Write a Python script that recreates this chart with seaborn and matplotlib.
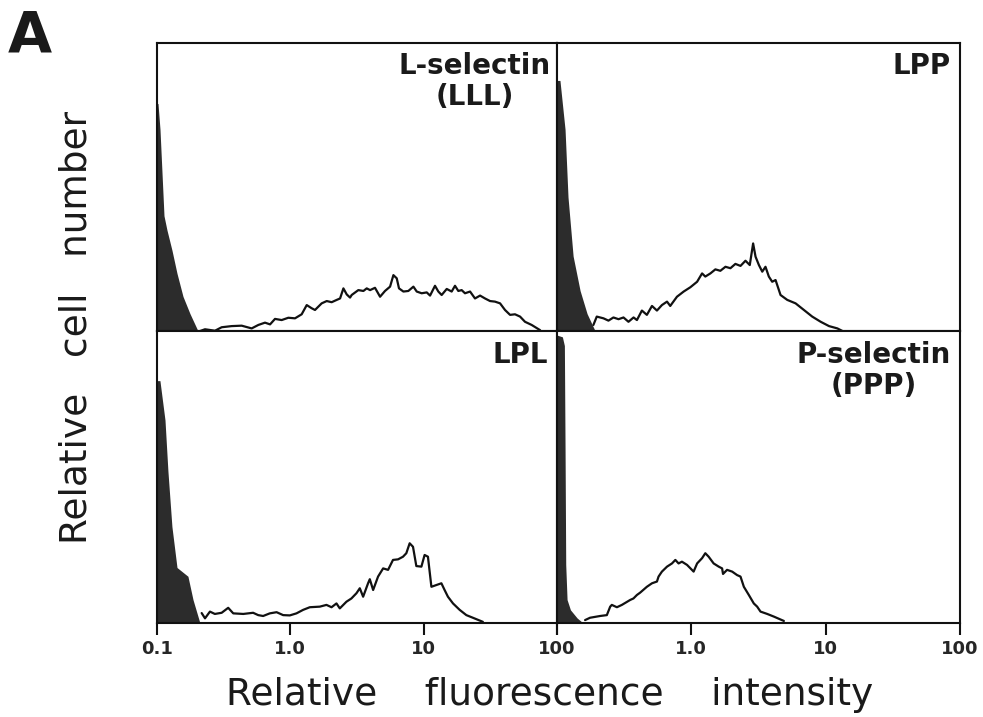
import numpy as np
import pandas as pd
import matplotlib
matplotlib.use("Agg")
import matplotlib.pyplot as plt
import seaborn as sns
from matplotlib.ticker import NullLocator

# 荧光强度用 log10 记录（十进位），细胞数用面板高度的百分比
# 左上 L-selectin (LLL)
lll_ctrl_log = [-1.0, -0.9925, -0.9775, -0.9625, -0.9475, -0.925, -0.8875, -0.85, -0.805, -0.7525, -0.6925]
lll_ctrl_h = [79, 79, 70, 55, 40, 35, 28, 20, 12, 6, 0]
lll_log = [-0.677, -0.64, -0.565, -0.515, -0.44, -0.365, -0.29, -0.24, -0.19, -0.152,
           -0.115, -0.065, -0.015, 0.035, 0.085, 0.123, 0.16, 0.185, 0.235, 0.273,
           0.31, 0.348, 0.373, 0.398, 0.423, 0.448, 0.46, 0.51, 0.548, 0.573,
           0.598, 0.635, 0.673, 0.71, 0.748, 0.773, 0.798, 0.815, 0.848, 0.885,
           0.923, 0.948, 0.985, 1.023, 1.048, 1.085, 1.11, 1.135, 1.173, 1.21,
           1.235, 1.26, 1.285, 1.31, 1.348, 1.385, 1.423, 1.46, 1.498, 1.535,
           1.573, 1.61, 1.648, 1.685, 1.723, 1.76, 1.81, 1.873]
lll_h = [0, 0.6, 0.1, 1.3, 1.7, 1.85, 0.9, 2.1, 2.9, 2.3,
         4.2, 3.8, 4.6, 4.4, 5.8, 9.0, 7.9, 7.3, 9.6, 10.4,
         10.0, 10.8, 11.3, 14.8, 12.7, 11.6, 12.5, 14.2, 13.9, 14.8,
         14.2, 15.0, 11.9, 13.9, 15.4, 19.4, 18.3, 14.8, 13.7, 13.9,
         15.4, 13.7, 13.1, 13.4, 12.3, 15.7, 13.7, 12.5, 14.6, 13.7,
         15.7, 13.9, 14.2, 13.1, 13.7, 11.3, 12.3, 11.3, 10.4, 10.2,
         9.6, 7.3, 5.6, 5.8, 5.0, 3.2, 2.1, 0.3]

# 右上 LPP
lpp_ctrl_log = [-1.0, -0.978, -0.94, -0.918, -0.88, -0.828, -0.776, -0.716]
lpp_ctrl_h = [87, 87, 70, 46.5, 26, 14, 6, 0]
lpp_log = [-0.729, -0.704, -0.654, -0.617, -0.58, -0.542, -0.505, -0.468, -0.43, -0.405,
           -0.368, -0.331, -0.293, -0.256, -0.219, -0.181, -0.157, -0.107, -0.057, -0.007,
           0.043, 0.08, 0.104, 0.142, 0.179, 0.216, 0.254, 0.291, 0.328, 0.366,
           0.403, 0.435, 0.46, 0.478, 0.503, 0.528, 0.552, 0.577, 0.602, 0.627,
           0.664, 0.714, 0.776, 0.838, 0.9, 0.963, 1.025, 1.087, 1.125]
lpp_h = [2.1, 5.0, 4.4, 3.6, 4.7, 4.1, 4.7, 3.2, 4.7, 3.8,
         7.1, 5.6, 8.7, 7.1, 9.0, 10.2, 8.7, 11.9, 13.7, 15.2,
         17.1, 20.0, 18.9, 20.0, 21.4, 20.9, 22.3, 21.8, 23.3, 22.6,
         24.4, 22.9, 30.4, 25.8, 22.9, 20.6, 22.3, 18.9, 17.1, 17.7,
         12.5, 10.8, 9.6, 7.3, 5.0, 3.2, 1.7, 0.9, 0]

# 左下 LPL
lpl_ctrl_log = [-1.0, -0.978, -0.94, -0.918, -0.888, -0.85, -0.768, -0.73, -0.678]
lpl_ctrl_h = [83, 83, 69.5, 52, 33, 19, 16, 8, 0]
lpl_log = [-0.665, -0.64, -0.603, -0.566, -0.515, -0.466, -0.428, -0.353, -0.279, -0.241,
           -0.204, -0.154, -0.103, -0.054, -0.004, 0.046, 0.096, 0.146, 0.221, 0.271,
           0.309, 0.346, 0.371, 0.421, 0.458, 0.496, 0.521, 0.546, 0.583, 0.596,
           0.621, 0.658, 0.696, 0.733, 0.77, 0.808, 0.845, 0.87, 0.895, 0.92,
           0.945, 0.983, 1.007, 1.032, 1.058, 1.095, 1.133, 1.157, 1.182, 1.22,
           1.27, 1.32, 1.369, 1.444]
lpl_h = [3.4, 1.6, 3.9, 3.1, 3.5, 5.2, 3.3, 3.1, 3.5, 2.7,
         2.4, 3.3, 3.7, 2.7, 2.6, 3.3, 4.5, 5.4, 5.6, 6.2,
         5.4, 6.7, 5.0, 7.3, 8.4, 10.2, 11.9, 9.0, 13.6, 15.0,
         11.3, 15.9, 18.7, 18.2, 21.6, 21.8, 22.7, 23.9, 27.3, 26.1,
         19.5, 19.3, 23.3, 22.7, 12.4, 13.0, 13.6, 11.3, 9.0, 6.7,
         4.5, 2.7, 1.8, 0.4]

# 右下 P-selectin (PPP)
ppp_ctrl_log = [-1.0, -0.96, -0.945, -0.94, -0.935, -0.925, -0.90, -0.85, -0.806]
ppp_ctrl_h = [98.6, 98, 95, 60, 20, 8, 4.5, 1.7, 0]
ppp_log = [-0.791, -0.754, -0.679, -0.629, -0.604, -0.592, -0.554, -0.517, -0.455, -0.431,
           -0.405, -0.381, -0.331, -0.293, -0.256, -0.244, -0.219, -0.181, -0.144, -0.119,
           -0.095, -0.07, -0.032, 0.017, 0.043, 0.08, 0.104, 0.129, 0.166, 0.204,
           0.229, 0.236, 0.266, 0.304, 0.341, 0.366, 0.391, 0.428, 0.465, 0.49,
           0.515, 0.565, 0.614, 0.689]
ppp_h = [1.0, 1.8, 2.4, 2.7, 5.6, 6.2, 5.4, 6.2, 7.9, 8.4,
         9.6, 10.4, 12.4, 13.6, 14.2, 15.9, 17.6, 19.3, 20.4, 21.6,
         20.4, 21.0, 19.9, 17.6, 20.4, 22.2, 23.9, 22.7, 20.4, 19.3,
         18.7, 16.8, 18.2, 17.6, 16.4, 15.9, 12.4, 9.6, 6.7, 5.6,
         3.9, 3.1, 2.2, 0.7]

panel_names = ["L-selectin\n(LLL)", "LPP", "LPL", "P-selectin\n(PPP)"]
tick_values = [0.1, 1, 10, 100]
tick_labels = ["0.1", "1.0", "10", "100"]

sns.set_style("white")
plt.rcParams['font.family'] = ['DejaVu Sans']

fig = plt.figure(figsize=(9.83, 7.17), dpi=100)
W, H = 983, 717
ax_tl = fig.add_axes([157 / W, 1 - 331 / H, 400 / W, 288 / H])
ax_tr = fig.add_axes([557 / W, 1 - 331 / H, 403 / W, 288 / H])
ax_bl = fig.add_axes([157 / W, 1 - 623 / H, 400 / W, 292 / H])
ax_br = fig.add_axes([557 / W, 1 - 623 / H, 403 / W, 292 / H])

panels = [
    (ax_tl, lll_ctrl_log, lll_ctrl_h, lll_log, lll_h, panel_names[0], (0.985, 0.97)),
    (ax_tr, lpp_ctrl_log, lpp_ctrl_h, lpp_log, lpp_h, panel_names[1], (0.977, 0.97)),
    (ax_bl, lpl_ctrl_log, lpl_ctrl_h, lpl_log, lpl_h, panel_names[2], (0.977, 0.965)),
    (ax_br, ppp_ctrl_log, ppp_ctrl_h, ppp_log, ppp_h, panel_names[3], (0.977, 0.967)),
]

for i, (ax, c_log, c_h, s_log, s_h, name, pos) in enumerate(panels):
    ax.set_xscale('log')
    # 对照（实心）
    ax.fill_between(10 ** np.array(c_log), c_h, 0, color='#2c2c2c', lw=0, zorder=2)
    # 样本（轮廓线）
    df = pd.DataFrame({'intensity': 10 ** np.array(s_log), 'count': s_h})
    sns.lineplot(data=df, x='intensity', y='count', ax=ax, color='#111111', lw=1.6, zorder=3)
    ax.set_xlim(0.1, 100)
    ax.set_ylim(0, 100)
    ax.set_xlabel('')
    ax.set_ylabel('')
    ax.set_yticks([])
    ax.xaxis.set_minor_locator(NullLocator())
    for sp in ax.spines.values():
        sp.set_linewidth(1.5)
        sp.set_color('#111111')
    ax.text(pos[0], pos[1], name, transform=ax.transAxes, ha='right', va='top',
            multialignment='center', fontsize=20, fontweight='bold', color='#1a1a1a',
            linespacing=1.15)
    if i < 2:
        ax.tick_params(axis='x', bottom=False, labelbottom=False)
    else:
        ax.set_xticks(tick_values)
        labels = tick_labels if i == 2 else [""] + tick_labels[1:]
        ax.set_xticklabels(labels, fontweight='bold')
        ax.tick_params(axis='x', direction='out', length=8.5, width=1.5, pad=4,
                       labelsize=13, bottom=True, color='#111111')

fig.text(550 / W, 1 - 695 / H, "Relative    fluorescence    intensity",
         ha='center', va='center', fontsize=27, color='#1a1a1a')
fig.text(77 / W, 1 - 327 / H, "Relative   cell   number", rotation=90,
         ha='center', va='center', fontsize=27, color='#1a1a1a')
fig.text(8 / W, 1 - 52 / H, "A", ha='left', va='baseline', fontsize=41,
         fontweight='bold', color='#1a1a1a')

fig.savefig('out.png', dpi=100)
